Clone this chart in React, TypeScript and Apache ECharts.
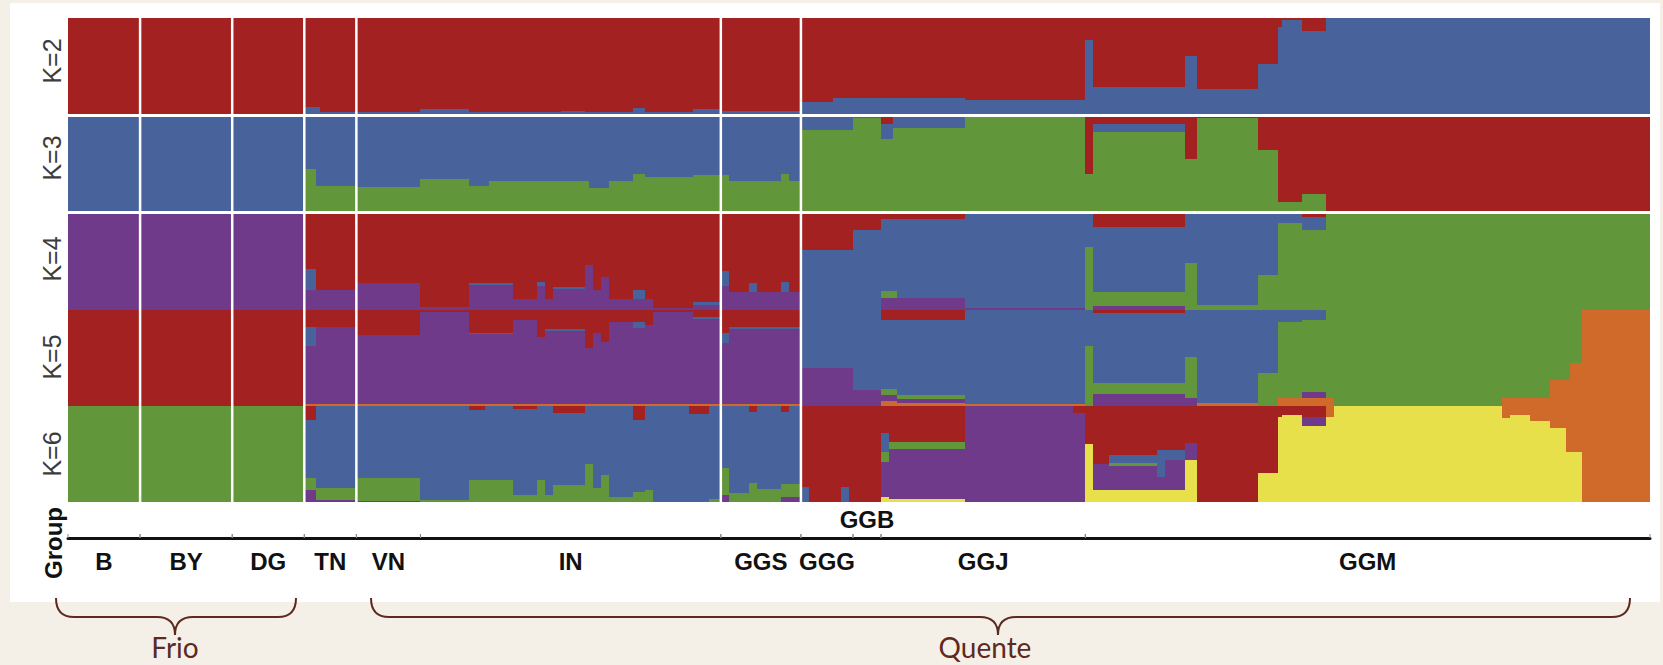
import React, { useEffect, useRef } from "react";
import * as echarts from "echarts";

// ---------- colours ----------
const RED = "#A32120";
const BLUE = "#48639C";
const GREEN = "#62963B";
const PURPLE = "#6F3A89";
const YELLOW = "#E8E04B";
const ORANGE = "#CF6A2B";

// ---------- data ----------
const rowLabels = ["K=2", "K=3", "K=4", "K=5", "K=6"];
const nIndividuals = 395;
const groupNames = ["B", "BY", "DG", "TN", "VN", "IN", "GGS", "GGG", "GGB", "GGJ", "GGM"];
const groupStarts = [0, 18, 41, 59, 72, 88, 163, 183, 196, 203, 254];
const groupAbove = [false, false, false, false, false, false, false, false, true, false, false];
const separators = [18, 41, 59, 72, 163, 183];
const climateNames = ["Frio", "Quente"];

// each segment: [firstIndividual, lastIndividual, ...membership fractions, top -> bottom]
const k2Colors = [RED, BLUE];
const k2Segments = [
  [0, 59, 1, 0],
  [59, 63, 0.93, 0.07],
  [63, 88, 0.98, 0.02],
  [88, 100, 0.95, 0.05],
  [100, 123, 0.98, 0.02],
  [123, 129, 0.97, 0.03],
  [129, 141, 0.98, 0.02],
  [141, 144, 0.94, 0.06],
  [144, 156, 0.98, 0.02],
  [156, 163, 0.95, 0.05],
  [163, 183, 0.97, 0.03],
  [183, 191, 0.88, 0.12],
  [191, 224, 0.83, 0.17],
  [224, 254, 0.85, 0.15],
  [254, 256, 0.23, 0.77],
  [256, 279, 0.72, 0.28],
  [279, 282, 0.4, 0.6],
  [282, 297, 0.74, 0.26],
  [297, 302, 0.48, 0.52],
  [302, 303, 0.09, 0.91],
  [303, 308, 0.02, 0.98],
  [308, 314, 0.14, 0.86],
  [314, 395, 0, 1],
];

const k3Colors = [RED, BLUE, GREEN];
const k3Segments = [
  [0, 59, 0, 1, 0],
  [59, 62, 0, 0.56, 0.44],
  [62, 72, 0, 0.74, 0.26],
  [72, 88, 0, 0.75, 0.25],
  [88, 100, 0, 0.66, 0.34],
  [100, 105, 0, 0.74, 0.26],
  [105, 117, 0, 0.68, 0.32],
  [117, 130, 0, 0.68, 0.32],
  [130, 135, 0, 0.76, 0.24],
  [135, 141, 0, 0.68, 0.32],
  [141, 144, 0, 0.61, 0.39],
  [144, 156, 0, 0.64, 0.36],
  [156, 165, 0, 0.62, 0.38],
  [165, 178, 0, 0.68, 0.32],
  [178, 180, 0, 0.61, 0.39],
  [180, 183, 0, 0.68, 0.32],
  [183, 196, 0, 0.14, 0.86],
  [196, 203, 0, 0.02, 0.98],
  [203, 206, 0.08, 0.16, 0.76],
  [206, 224, 0, 0.12, 0.88],
  [224, 254, 0, 0, 1],
  [254, 256, 0.61, 0, 0.39],
  [256, 279, 0.08, 0.08, 0.84],
  [279, 282, 0.45, 0, 0.55],
  [282, 297, 0.02, 0, 0.98],
  [297, 302, 0.35, 0, 0.65],
  [302, 308, 0.91, 0, 0.09],
  [308, 314, 0.82, 0, 0.18],
  [314, 395, 1, 0, 0],
];

const k4Colors = [RED, BLUE, GREEN, PURPLE];
const k4Segments = [
  [0, 59, 0, 0, 0, 1],
  [59, 62, 0.58, 0.21, 0, 0.21],
  [62, 72, 0.79, 0, 0, 0.21],
  [72, 88, 0.72, 0, 0, 0.28],
  [88, 100, 0.97, 0, 0, 0.03],
  [100, 111, 0.72, 0.02, 0, 0.26],
  [111, 117, 0.89, 0, 0, 0.11],
  [117, 119, 0.71, 0.04, 0, 0.25],
  [119, 121, 0.89, 0, 0, 0.11],
  [121, 129, 0.76, 0.02, 0, 0.22],
  [129, 131, 0.53, 0, 0, 0.47],
  [131, 133, 0.79, 0, 0, 0.21],
  [133, 135, 0.66, 0, 0, 0.34],
  [135, 141, 0.89, 0, 0, 0.11],
  [141, 144, 0.79, 0.1, 0, 0.11],
  [144, 146, 0.89, 0, 0, 0.11],
  [146, 156, 0.98, 0, 0, 0.02],
  [156, 163, 0.92, 0.03, 0, 0.05],
  [163, 165, 0.6, 0.15, 0, 0.25],
  [165, 170, 0.81, 0, 0, 0.19],
  [170, 172, 0.72, 0.09, 0, 0.19],
  [172, 178, 0.81, 0, 0, 0.19],
  [178, 180, 0.71, 0.1, 0, 0.19],
  [180, 183, 0.81, 0, 0, 0.19],
  [183, 196, 0.38, 0.62, 0, 0],
  [196, 203, 0.17, 0.83, 0, 0],
  [203, 207, 0.06, 0.74, 0.08, 0.12],
  [207, 224, 0.06, 0.82, 0, 0.12],
  [224, 254, 0, 0.98, 0, 0.02],
  [254, 256, 0, 0.35, 0.65, 0],
  [256, 279, 0.14, 0.67, 0.15, 0.04],
  [279, 282, 0, 0.51, 0.49, 0],
  [282, 297, 0, 0.95, 0.05, 0],
  [297, 302, 0, 0.64, 0.36, 0],
  [302, 308, 0, 0.1, 0.9, 0],
  [308, 314, 0.04, 0.13, 0.83, 0],
  [314, 395, 0, 0, 1, 0],
];

const k5Colors = [RED, BLUE, GREEN, PURPLE, ORANGE];
const k5Segments = [
  [0, 59, 1, 0, 0, 0, 0],
  [59, 62, 0.18, 0.2, 0, 0.6, 0.02],
  [62, 72, 0.18, 0, 0, 0.8, 0.02],
  [72, 88, 0.26, 0, 0, 0.72, 0.02],
  [88, 100, 0.02, 0, 0, 0.96, 0.02],
  [100, 111, 0.24, 0.01, 0, 0.73, 0.02],
  [111, 117, 0.1, 0, 0, 0.88, 0.02],
  [117, 119, 0.28, 0, 0, 0.7, 0.02],
  [119, 129, 0.2, 0.02, 0, 0.76, 0.02],
  [129, 131, 0.4, 0, 0, 0.58, 0.02],
  [131, 133, 0.24, 0, 0, 0.74, 0.02],
  [133, 135, 0.33, 0, 0, 0.65, 0.02],
  [135, 141, 0.12, 0, 0, 0.86, 0.02],
  [141, 144, 0.12, 0.07, 0, 0.79, 0.02],
  [144, 146, 0.16, 0, 0, 0.82, 0.02],
  [146, 156, 0.02, 0, 0, 0.96, 0.02],
  [156, 163, 0.07, 0.02, 0, 0.89, 0.02],
  [163, 165, 0.24, 0.1, 0, 0.64, 0.02],
  [165, 183, 0.18, 0.02, 0, 0.78, 0.02],
  [183, 196, 0, 0.6, 0, 0.4, 0],
  [196, 203, 0, 0.83, 0, 0.17, 0],
  [203, 207, 0.1, 0.72, 0.07, 0.06, 0.05],
  [207, 224, 0.1, 0.79, 0.04, 0.04, 0.03],
  [224, 254, 0, 0.98, 0, 0, 0.02],
  [254, 256, 0, 0.37, 0.63, 0, 0],
  [256, 279, 0.03, 0.73, 0.11, 0.13, 0],
  [279, 282, 0, 0.49, 0.43, 0.08, 0],
  [282, 297, 0, 0.97, 0, 0, 0.03],
  [297, 302, 0, 0.66, 0.34, 0, 0],
  [302, 308, 0, 0.12, 0.8, 0, 0.08],
  [308, 314, 0, 0.1, 0.75, 0.07, 0.08],
  [314, 316, 0, 0, 0.92, 0, 0.08],
  [316, 358, 0, 0, 1, 0, 0],
  [358, 370, 0, 0, 0.92, 0, 0.08],
  [370, 375, 0, 0, 0.73, 0, 0.27],
  [375, 378, 0, 0, 0.55, 0, 0.45],
  [378, 395, 0, 0, 0, 0, 1],
];

const k6Colors = [ORANGE, RED, BLUE, GREEN, PURPLE, YELLOW];
const k6Segments = [
  [0, 59, 0, 0, 0, 1, 0, 0],
  [59, 62, 0, 0.15, 0.6, 0.13, 0.12, 0],
  [62, 72, 0, 0, 0.85, 0.13, 0.02, 0],
  [72, 88, 0, 0, 0.75, 0.24, 0.01, 0],
  [88, 100, 0, 0, 0.98, 0.02, 0, 0],
  [100, 104, 0, 0.04, 0.73, 0.23, 0, 0],
  [104, 111, 0, 0, 0.77, 0.23, 0, 0],
  [111, 117, 0, 0.03, 0.9, 0.07, 0, 0],
  [117, 119, 0, 0, 0.77, 0.23, 0, 0],
  [119, 121, 0, 0, 0.93, 0.07, 0, 0],
  [121, 129, 0, 0.07, 0.75, 0.18, 0, 0],
  [129, 131, 0, 0, 0.6, 0.4, 0, 0],
  [131, 133, 0, 0, 0.85, 0.15, 0, 0],
  [133, 135, 0, 0, 0.72, 0.28, 0, 0],
  [135, 141, 0, 0, 0.95, 0.05, 0, 0],
  [141, 144, 0, 0.15, 0.75, 0.1, 0, 0],
  [144, 146, 0, 0, 0.88, 0.12, 0, 0],
  [146, 155, 0, 0, 1, 0, 0, 0],
  [155, 160, 0, 0.08, 0.92, 0, 0, 0],
  [160, 163, 0, 0, 0.97, 0.03, 0, 0],
  [163, 165, 0, 0, 0.65, 0.28, 0.07, 0],
  [165, 170, 0, 0, 0.91, 0.09, 0, 0],
  [170, 172, 0, 0.06, 0.74, 0.2, 0, 0],
  [172, 178, 0, 0, 0.86, 0.14, 0, 0],
  [178, 180, 0, 0.06, 0.75, 0.14, 0.05, 0],
  [180, 183, 0, 0, 0.81, 0.14, 0.05, 0],
  [183, 185, 0, 0.84, 0.16, 0, 0, 0],
  [185, 193, 0, 1, 0, 0, 0, 0],
  [193, 195, 0, 0.84, 0.16, 0, 0, 0],
  [195, 203, 0, 1, 0, 0, 0, 0],
  [203, 205, 0, 0.28, 0.2, 0.1, 0.37, 0.05],
  [205, 224, 0, 0.37, 0, 0.08, 0.52, 0.03],
  [224, 251, 0, 0, 0, 0, 1, 0],
  [251, 254, 0, 0.07, 0, 0, 0.93, 0],
  [254, 256, 0, 0.4, 0, 0, 0, 0.6],
  [256, 260, 0, 0.6, 0, 0, 0.27, 0.13],
  [260, 272, 0, 0.51, 0.08, 0.03, 0.25, 0.13],
  [272, 274, 0, 0.46, 0.28, 0, 0.13, 0.13],
  [274, 279, 0, 0.46, 0.1, 0, 0.31, 0.13],
  [279, 282, 0, 0.39, 0, 0, 0.17, 0.44],
  [282, 297, 0, 1, 0, 0, 0, 0],
  [297, 302, 0, 0.7, 0, 0, 0, 0.3],
  [302, 303, 0, 0.11, 0, 0, 0, 0.89],
  [303, 308, 0, 0.09, 0, 0, 0, 0.91],
  [308, 314, 0, 0.11, 0, 0, 0.1, 0.79],
  [314, 316, 0.11, 0, 0, 0, 0, 0.89],
  [316, 358, 0, 0, 0, 0, 0, 1],
  [358, 360, 0.13, 0, 0, 0, 0, 0.87],
  [360, 365, 0.09, 0, 0, 0, 0, 0.91],
  [365, 370, 0.16, 0, 0, 0, 0, 0.84],
  [370, 374, 0.23, 0, 0, 0, 0, 0.77],
  [374, 378, 0.48, 0, 0, 0, 0, 0.52],
  [378, 395, 1, 0, 0, 0, 0, 0],
];

const rowColors = [k2Colors, k3Colors, k4Colors, k5Colors, k6Colors];
const rowSegments = [k2Segments, k3Segments, k4Segments, k5Segments, k6Segments];

// ---------- layout ----------
const PLOT_LEFT = 68;
const PLOT_WIDTH = 1582;
const ROW_BOXES = [
  { top: 18, height: 96 },
  { top: 116.5, height: 94.5 },
  { top: 213.5, height: 96.5 },
  { top: 310, height: 96 },
  { top: 406, height: 96 },
];
const LABEL_Y = [61, 158, 259, 357, 454];
const FONT = '"Liberation Sans", Arial, Helvetica, sans-serif';
const BROWN = "#5C2A21";

function stackRender(colors: string[]) {
  return (params: any, api: any) => {
    const x0 = Number(api.value(0));
    const x1 = Number(api.value(1));
    const vals = colors.map((_, i) => Math.max(0, Number(api.value(2 + i)) || 0));
    const total = vals.reduce((a, b) => a + b, 0) || 1;
    let top = 1;
    const children: any[] = [];
    vals.forEach((v, i) => {
      if (v <= 0) return;
      const bottom = top - v / total;
      const p0 = api.coord([x0, top]);
      const p1 = api.coord([x1, bottom]);
      const xa = Math.round(p0[0]);
      const xb = Math.round(p1[0]);
      const ya = Math.round(p0[1]);
      const yb = Math.round(p1[1]);
      if (yb > ya && xb > xa) {
        children.push({
          type: "rect",
          shape: { x: xa, y: ya, width: xb - xa, height: yb - ya },
          style: { fill: colors[i] },
        });
      }
      top = bottom;
    });
    return { type: "group", children };
  };
}

function brace(L: number, R: number, tip: number, color: string) {
  const yTop = 598;
  const yMid = 617;
  const yTip = 635;
  const r = 18;
  const st = { stroke: color, lineWidth: 2, fill: "none" };
  return [
    { type: "bezierCurve", shape: { x1: L, y1: yTop, cpx1: L, cpy1: yMid, x2: L + r, y2: yMid }, style: st },
    { type: "line", shape: { x1: L + r, y1: yMid, x2: tip - r, y2: yMid }, style: st },
    { type: "bezierCurve", shape: { x1: tip - r, y1: yMid, cpx1: tip, cpy1: yMid, x2: tip, y2: yTip }, style: st },
    { type: "bezierCurve", shape: { x1: tip + r, y1: yMid, cpx1: tip, cpy1: yMid, x2: tip, y2: yTip }, style: st },
    { type: "line", shape: { x1: tip + r, y1: yMid, x2: R - r, y2: yMid }, style: st },
    { type: "bezierCurve", shape: { x1: R - r, y1: yMid, cpx1: R, cpy1: yMid, x2: R, y2: yTop }, style: st },
  ];
}

export default function App() {
  const ref = useRef<HTMLDivElement>(null);

  useEffect(() => {
    if (!ref.current) return;
    const chart = echarts.init(ref.current, null, { renderer: "svg" });

    const grids: any[] = ROW_BOXES.map((b) => ({
      left: PLOT_LEFT,
      width: PLOT_WIDTH,
      top: b.top,
      height: b.height,
      outerBoundsMode: "none",
    }));
    // overlay grid (separators)
    grids.push({ left: PLOT_LEFT, width: PLOT_WIDTH, top: 18, height: 484, outerBoundsMode: "none" });
    // group axis grid
    grids.push({ left: PLOT_LEFT, width: PLOT_WIDTH, top: 538, height: 40, outerBoundsMode: "none" });

    const xAxes: any[] = grids.map((_, i) => ({
      type: "value",
      gridIndex: i,
      min: 0,
      max: nIndividuals,
      show: i === 6,
      position: "top",
      axisLine: { show: i === 6, onZero: false, lineStyle: { color: "#111", width: 3 } },
      axisTick: { show: false },
      axisLabel: { show: false },
      splitLine: { show: false },
    }));
    const yAxes: any[] = grids.map((_, i) => ({
      type: "value",
      gridIndex: i,
      min: 0,
      max: 1,
      show: false,
      splitLine: { show: false },
    }));

    const series: any[] = rowSegments.map((segs, r) => {
      const colors = rowColors[r];
      return {
        type: "custom",
        name: rowLabels[r],
        xAxisIndex: r,
        yAxisIndex: r,
        silent: true,
        dimensions: ["start", "end", ...colors.map((_, i) => "c" + i)],
        encode: { x: [0, 1], y: [2] },
        renderItem: stackRender(colors),
        data: segs,
      };
    });

    series.push({
      type: "custom",
      name: "separators",
      xAxisIndex: 5,
      yAxisIndex: 5,
      silent: true,
      z: 10,
      dimensions: ["pos"],
      encode: { x: [0] },
      renderItem: (params: any, api: any) => {
        const p0 = api.coord([api.value(0), 1]);
        const p1 = api.coord([api.value(0), 0]);
        return {
          type: "line",
          shape: { x1: p0[0], y1: p0[1], x2: p1[0], y2: p1[1] },
          style: { stroke: "#ffffff", lineWidth: 2.5 },
        };
      },
      data: separators.map((s) => [s]),
    });

    const groupData = groupStarts.map((s, i) => [s, i + 1 < groupStarts.length ? groupStarts[i + 1] : nIndividuals]);
    series.push({
      type: "custom",
      name: "groups",
      xAxisIndex: 6,
      yAxisIndex: 6,
      silent: true,
      z: 12,
      dimensions: ["start", "end"],
      encode: { x: [0, 1] },
      renderItem: (params: any, api: any) => {
        const s = Number(api.value(0));
        const e = Number(api.value(1));
        const idx = params.dataIndex;
        const xs = api.coord([s, 0])[0];
        const xe = api.coord([e, 0])[0];
        const cx = api.coord([(s + e) / 2, 0])[0];
        const top = params.coordSys.y;
        const above = groupAbove[idx];
        const children: any[] = [
          { type: "line", shape: { x1: xs, y1: top - 4, x2: xs, y2: top }, style: { stroke: "#888", lineWidth: 1 } },
          { type: "line", shape: { x1: xe, y1: top - 4, x2: xe, y2: top }, style: { stroke: "#888", lineWidth: 1 } },
          {
            type: "text",
            x: cx,
            y: above ? top - 19 : top + 23,
            style: {
              text: groupNames[idx],
              fill: "#111",
              fontSize: 24,
              fontWeight: "bold",
              fontFamily: FONT,
              align: "center",
              verticalAlign: "middle",
              textAlign: "center",
              textVerticalAlign: "middle",
            },
          },
        ];
        return { type: "group", children };
      },
      data: groupData,
    });

    const climateStyle = {
      fill: BROWN,
      fontSize: 28,
      lineHeight: 28,
      fontFamily: 'Lato, "Open Sans", sans-serif',
      align: "center",
      verticalAlign: "middle",
      textAlign: "center",
      textVerticalAlign: "middle",
    };

    const graphic: any[] = [
      { type: "rect", z: -10, shape: { x: 10, y: 3, width: 1650, height: 599 }, style: { fill: "#ffffff" }, silent: true },
      ...rowLabels.map((t, i) => ({
        type: "text",
        x: 52,
        y: LABEL_Y[i],
        rotation: Math.PI / 2,
        style: {
          text: t,
          fill: "#3c3c3c",
          fontSize: 25,
          fontFamily: FONT,
          align: "center",
          verticalAlign: "middle",
          textAlign: "center",
          textVerticalAlign: "middle",
        },
      })),
      {
        type: "text",
        x: 53,
        y: 543,
        rotation: Math.PI / 2,
        style: {
          text: "Group",
          fill: "#111",
          fontSize: 24,
          fontWeight: "bold",
          fontFamily: FONT,
          align: "center",
          verticalAlign: "middle",
          textAlign: "center",
          textVerticalAlign: "middle",
        },
      },
      ...brace(56, 296, 175, BROWN),
      ...brace(371, 1630, 998, BROWN),
      { type: "text", x: 175, y: 647, style: { ...climateStyle, text: climateNames[0] } },
      { type: "text", x: 985, y: 647, style: { ...climateStyle, text: climateNames[1] } },
    ];

    chart.setOption({
      animation: false,
      backgroundColor: "#F4F0E8",
      grid: grids,
      xAxis: xAxes,
      yAxis: yAxes,
      series,
      graphic,
    });

    return () => {
      chart.dispose();
    };
  }, []);

  return (
    <div style={{ position: "fixed", left: 0, top: 0, width: 1663, height: 665, background: "#F4F0E8" }}>
      <div ref={ref} style={{ width: 1663, height: 665 }} />
    </div>
  );
}
